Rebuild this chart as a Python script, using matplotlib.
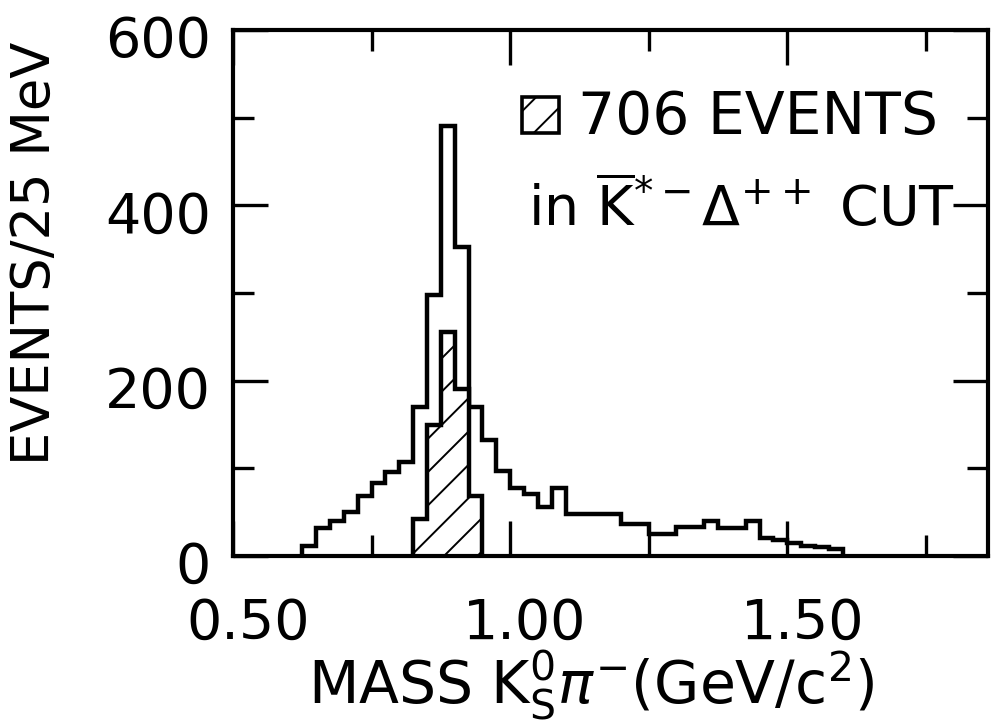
import numpy as np
import matplotlib
matplotlib.use("Agg")
import matplotlib.pyplot as plt
from matplotlib.patches import Rectangle
from matplotlib.transforms import ScaledTranslation

# K0s pi- invariant mass, 25 MeV bins starting at 0.625 GeV
bin_start = 0.625
bin_width = 0.025
all_counts = [12, 32, 40, 50, 68, 83, 96, 107, 170, 298,
              491, 353, 170, 132, 97, 78, 71, 56, 78, 48,
              48, 48, 48, 36, 36, 25, 25, 33, 33, 40,
              32, 32, 40, 21, 18, 15, 12, 10, 8]

# events inside the K*- Delta++ cut (706 in total)
cut_start = 0.825
cut_counts = [42, 150, 256, 190, 68]

x_ticklabels = ["0.50", "1.00", "1.50"]
y_ticklabels = ["0", "200", "400", "600"]

plt.rcParams["font.family"] = ["DejaVu Sans"]
plt.rcParams["mathtext.fontset"] = "dejavusans"
plt.rcParams["hatch.linewidth"] = 1.4

fig = plt.figure(figsize=(9.93, 7.24), dpi=100)
ax = fig.add_axes([0.2346, 0.232, 0.7603, 0.7265])

edges = bin_start + bin_width * np.arange(len(all_counts) + 1)
cut_edges = cut_start + bin_width * np.arange(len(cut_counts) + 1)

ax.stairs(all_counts, edges, baseline=0, color="black", linewidth=3.2)
ax.stairs(cut_counts, cut_edges, baseline=0, fill=True, facecolor="white",
          edgecolor="black", hatch="/", linewidth=3.2)

ax.set_xlim(0.5, 1.862)
ax.set_ylim(0, 600)

ax.set_xticks([0.5, 1.0, 1.5], x_ticklabels)
ax.set_xticks([0.75, 1.25, 1.75], minor=True)
ax.set_yticks([0, 200, 400, 600], y_ticklabels)
ax.set_yticks([100, 300, 500], minor=True)

ax.tick_params(which="both", direction="in", top=True, right=True,
               width=2.4, colors="black", labelsize=40)
ax.tick_params(which="major", length=25)
ax.tick_params(which="minor", length=15)
ax.tick_params(axis="x", pad=29)
ax.tick_params(axis="y", pad=16)

for lab in ax.get_xticklabels():
    lab.set_transform(lab.get_transform()
                      + ScaledTranslation(0.15, 0, fig.dpi_scale_trans))
for lab in ax.get_yticklabels():
    lab.set_transform(lab.get_transform()
                      + ScaledTranslation(0, -0.06, fig.dpi_scale_trans))

for sp in ax.spines.values():
    sp.set_linewidth(3)

ax.set_ylabel("EVENTS/25 MeV", fontsize=38, va="center")
ax.yaxis.set_label_coords(-0.262, 0.576)
ax.set_xlabel(r"MASS K$^{0}_{\mathrm{S}}\pi^{-}$(GeV/c$^{2}$)",
              fontsize=42, va="top")
ax.xaxis.set_label_coords(0.475, -0.175)

# legend box and text
ax.add_patch(Rectangle((0.383, 0.804), 0.049, 0.068, transform=ax.transAxes,
                       facecolor="white", edgecolor="black", hatch="/",
                       linewidth=2.6))
ax.text(0.457, 0.802, "706 EVENTS", transform=ax.transAxes,
        fontsize=42, va="baseline", ha="left")
ax.text(0.391, 0.627, r"in $\overline{\mathrm{K}}^{*-}\Delta^{++}$ CUT",
        transform=ax.transAxes, fontsize=40, va="baseline", ha="left")

fig.savefig("out.png", dpi=100, facecolor="white")
